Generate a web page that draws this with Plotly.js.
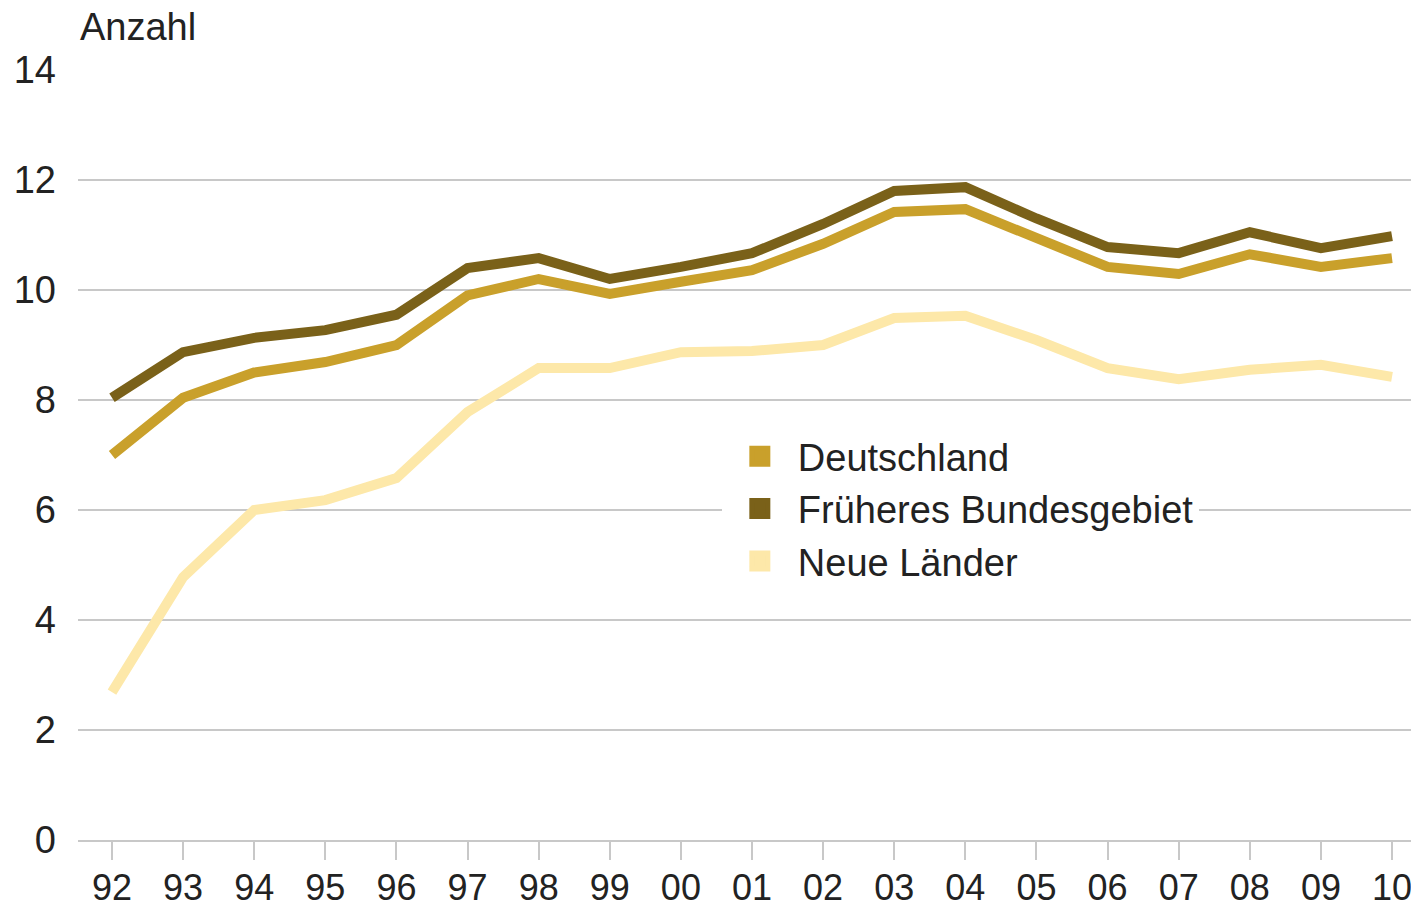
<!DOCTYPE html>
<html><head><meta charset="utf-8">
<script src="https://cdn.plot.ly/plotly-3.0.1.min.js"></script>
<style>html,body{margin:0;padding:0;background:#fff}#chart{width:1411px;height:911px}</style>
</head><body><div id="chart"></div>
<script>
const years = ['92','93','94','95','96','97','98','99','00','01','02','03','04','05','06','07','08','09','10'];
const deutschland = [7.0, 8.04, 8.5, 8.69, 9.0, 9.9, 10.2, 9.93, 10.15, 10.36, 10.84, 11.42, 11.47, 10.95, 10.42, 10.29, 10.65, 10.42, 10.58];
const frueheresBundesgebiet = [8.04, 8.87, 9.13, 9.27, 9.55, 10.4, 10.58, 10.2, 10.42, 10.67, 11.2, 11.8, 11.87, 11.3, 10.78, 10.67, 11.05, 10.76, 10.98];
const neueLaender = [2.69, 4.78, 6.0, 6.18, 6.58, 7.78, 8.58, 8.58, 8.87, 8.89, 9.0, 9.49, 9.53, 9.09, 8.58, 8.38, 8.55, 8.64, 8.42];
const seriesNames = ['Deutschland', 'Früheres Bundesgebiet', 'Neue Länder'];
const yTicks = [0, 2, 4, 6, 8, 10, 12, 14];
const yUnit = 'Anzahl';

const colors = ['#C9A02B', '#7A6119', '#FDE8A9'];
const seriesData = [deutschland, frueheresBundesgebiet, neueLaender];
const FONT = 'Liberation Sans, Arial, sans-serif';
const FS = 38;

const traces = [];
// lines
[2, 0, 1].forEach(i => {
  traces.push({
    type: 'scatter', mode: 'lines', x: years, y: seriesData[i],
    name: seriesNames[i], showlegend: false,
    line: {color: colors[i], width: 10},
    hoverinfo: 'x+y+name'
  });
});
// legend entries (square swatches)
[0, 1, 2].forEach(i => {
  traces.push({
    type: 'scatter', mode: 'markers', x: [null], y: [null],
    name: seriesNames[i], showlegend: true,
    marker: {symbol: 'square', size: 16, color: colors[i], line: {color: colors[i], width: 5}}
  });
});

const layout = {
  width: 1411, height: 911,
  margin: {l: 78, r: 0, t: 70, b: 71},
  paper_bgcolor: '#fff', plot_bgcolor: '#fff',
  font: {family: FONT, size: FS, color: '#222'},
  showlegend: true,
  legend: {
    x: 0.483, xanchor: 'left', y: 0.539, yanchor: 'top',
    bgcolor: '#fff', borderwidth: 0,
    itemwidth: 66,
    font: {family: FONT, size: FS, color: '#222'},
    traceorder: 'normal', tracegroupgap: 0
  },
  xaxis: {
    type: 'category', range: [-0.478, 18.267],
    showgrid: false, zeroline: false,
    showline: true, linecolor: '#c8c8c8', linewidth: 2,
    ticks: 'outside', ticklen: 18, tickwidth: 2, tickcolor: '#c8c8c8',
    ticklabelstandoff: -3,
    tickfont: {family: FONT, size: 36, color: '#222'},
    fixedrange: true
  },
  yaxis: {
    range: [0, 14], tickvals: yTicks, ticktext: yTicks.map(String),
    showgrid: true, gridcolor: '#c8c8c8', gridwidth: 2,
    zeroline: false, showline: false, ticks: '',
    ticklabelstandoff: 21,
    tickfont: {family: FONT, size: FS, color: '#222'},
    fixedrange: true
  },
  annotations: [{
    text: yUnit, xref: 'paper', yref: 'paper', x: 0, y: 1.0556,
    xanchor: 'left', yanchor: 'middle', showarrow: false,
    font: {family: FONT, size: FS, color: '#222'}
  }]
};

Plotly.newPlot('chart', traces, layout, {displayModeBar: false, staticPlot: true});
</script>
</body></html>
